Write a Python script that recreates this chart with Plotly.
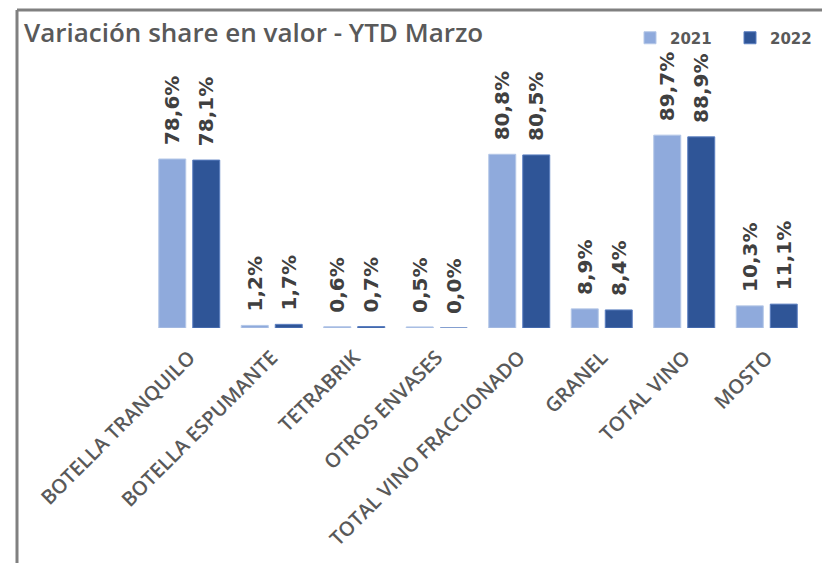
import plotly.graph_objects as go

categories = ["BOTELLA TRANQUILO", "BOTELLA ESPUMANTE", "TETRABRIK", "OTROS ENVASES",
              "TOTAL VINO FRACCIONADO", "GRANEL", "TOTAL VINO", "MOSTO"]
share_2021 = [78.6, 1.2, 0.6, 0.5, 80.8, 8.9, 89.7, 10.3]
share_2022 = [78.1, 1.7, 0.7, 0.0, 80.5, 8.4, 88.9, 11.1]
series_names = ["2021", "2022"]
colors = ["#8FAADC", "#2F5597"]
edge_colors = ["#B4C7E7", "#5B7FC0"]

# the page adds an 8px body margin, so the figure is sized to fill the window
W, H = 822, 555
L, R, T, B = 140, 22, 52, 235
pw, ph = W - L - R, H - T - B

def px_to_paper_x(px):
    return (px - L) / pw

def px_to_paper_y(py):
    return (H - B - py) / ph

label_font = dict(family="DejaVu Sans", size=20, color="#404040", weight="bold")

fig = go.Figure()
for name, vals, c, ec in zip(series_names, [share_2021, share_2022], colors, edge_colors):
    fig.add_trace(go.Bar(
        x=categories, y=vals, name=name,
        marker=dict(color=c, line=dict(color=ec, width=1)),
        texttemplate="\u2009\u00a0%{y:.1f}%",
        textposition="outside", textangle=-90,
        textfont=label_font, constraintext="none", cliponaxis=False,
    ))

fig.update_layout(
    width=W, height=H,
    margin=dict(l=L, r=R, t=T, b=B, autoexpand=False),
    paper_bgcolor="white", plot_bgcolor="white",
    separators=",.",
    barmode="group", bargap=0.176, bargroupgap=0.206,
    title=dict(text="Variación share en valor - YTD Marzo",
               x=16 / W, xref="container", xanchor="left",
               y=1 - 25 / H, yref="container", yanchor="middle",
               font=dict(family="Open Sans", size=26, color="#595959", weight=600)),
    legend=dict(orientation="h", x=px_to_paper_x(622), xanchor="left",
                y=px_to_paper_y(30), yanchor="middle", entrywidth=55,
                font=dict(family="DejaVu Sans", size=15, color="#595959", weight="bold"),
                bgcolor="rgba(0,0,0,0)", traceorder="normal"),
    showlegend=True,
)
fig.update_xaxes(tickangle=-45, ticks="outside", ticklen=9, tickcolor="rgba(0,0,0,0)",
                 tickfont=dict(family="Open Sans", size=20, color="#595959", weight=600),
                 showline=False, showgrid=False, zeroline=False)
fig.update_yaxes(range=[0, ph / 2.15], visible=False, showgrid=False, zeroline=False)

# chart frame (top and left borders)
fig.add_shape(type="line", xref="paper", yref="paper",
              x0=px_to_paper_x(9), x1=px_to_paper_x(840), y0=px_to_paper_y(2), y1=px_to_paper_y(2),
              line=dict(color="#808080", width=3))
fig.add_shape(type="line", xref="paper", yref="paper",
              x0=px_to_paper_x(9), x1=px_to_paper_x(9), y0=px_to_paper_y(2), y1=px_to_paper_y(570),
              line=dict(color="#808080", width=3))

fig.write_html("out.html")
